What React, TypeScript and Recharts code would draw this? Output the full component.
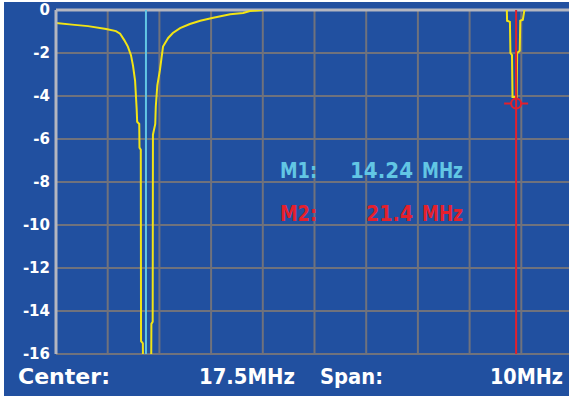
import { LineChart, Line, XAxis, YAxis, CartesianGrid, ReferenceLine, ReferenceDot } from "recharts";

// trace: frequency (MHz) / return loss (dB)
const traceFreq = [
  12.5, 12.81, 13.12, 13.47, 13.66, 13.74, 13.82, 13.89, 13.95, 13.99, 14.03, 14.06, 14.07, 14.11, 14.115,
  14.14, 14.145, 14.18, 14.185, 14.34, 14.345, 14.37, 14.375, 14.42, 14.43, 14.46, 14.51, 14.57, 14.67,
  14.76, 14.9, 15.09, 15.29, 15.52, 15.87, 16.12, 16.25, 16.48, 16.5, 21.2, 21.22, 21.225, 21.28, 21.29,
  21.32, 21.33, 21.41, 21.42, 21.47, 21.48, 21.53, 21.56, 21.57, 22.5,
];
const traceDb = [
  -0.6, -0.68, -0.75, -0.88, -0.98, -1.1, -1.4, -1.7, -2.1, -2.6, -3.3, -4.6, -5.2, -5.3, -6.4,
  -6.5, -15.4, -15.5, -17, -17, -14.6, -14.5, -5.8, -5.3, -4.5, -3.5, -2.8, -1.7, -1.3,
  -1.07, -0.84, -0.65, -0.5, -0.37, -0.2, -0.14, -0.05, 0, 0.5, 0.5, 0, -0.5, -0.55, -2.0,
  -2.1, -4.05, -4.05, -2.0, -1.9, -0.5, -0.45, 0, 0.5, 0.5,
];
const yTicks = [0, -2, -4, -6, -8, -10, -12, -14, -16];
const xTicks = [12.5, 13.5, 14.5, 15.5, 16.5, 17.5, 18.5, 19.5, 20.5, 21.5, 22.5];
const xDomain: [number, number] = [12.5, 22.5];
const m1Freq = 14.24;
const m2Freq = 21.4;
const m2Db = -4.35;

const data = traceFreq.map((f, i) => ({ f, db: traceDb[i] }));

const FONT = "'DejaVu Sans', sans-serif";
const BLUE = "#2150a0";
const GRID = "#70727c";
const FRAME = "#b4b6c0";
const CYAN = "#62c6e4";
const RED = "#e4202c";
const YELLOW = "#f2e414";

const MarkerShape = (props: any) => {
  const { cx, cy } = props;
  return (
    <g>
      <line x1={cx - 12} y1={cy} x2={cx - 5} y2={cy} stroke={RED} strokeWidth={2} />
      <line x1={cx + 5} y1={cy} x2={cx + 12} y2={cy} stroke={RED} strokeWidth={2} />
      <circle cx={cx} cy={cy} r={5} fill="none" stroke={RED} strokeWidth={2} />
    </g>
  );
};

// vertical divisions: one per MHz, placed through the x scale
const verticalGen = ({ xAxis, offset }: any) => {
  const scale = xAxis?.scale;
  if (typeof scale === "function") return xTicks.map((t) => scale(t));
  return xTicks.map((t) => offset.left + ((t - xDomain[0]) / (xDomain[1] - xDomain[0])) * offset.width);
};

export default function App() {
  return (
    <div
      style={{
        position: "absolute",
        left: 0,
        top: 0,
        width: 569,
        height: 396,
        overflow: "hidden",
        background: "#fff",
      }}
    >
      <div style={{ position: "absolute", left: 4, top: 2, width: 600, height: 400, background: BLUE }} />
      <div style={{ position: "absolute", left: 0, top: 0 }}>
        <LineChart width={580} height={396} data={data} margin={{ top: 10, right: 7, bottom: 42, left: 0 }}>
          <CartesianGrid stroke={GRID} strokeWidth={2} verticalCoordinatesGenerator={verticalGen} />
          <XAxis
            dataKey="f"
            type="number"
            domain={xDomain}
            ticks={xTicks}
            tick={false}
            tickLine={false}
            height={0}
            axisLine={{ stroke: FRAME, strokeWidth: 2 }}
          />
          <YAxis
            type="number"
            domain={[-16, 0]}
            ticks={yTicks}
            allowDataOverflow
            width={56}
            tickLine={false}
            tickSize={4}
            tickMargin={2}
            axisLine={{ stroke: FRAME, strokeWidth: 3 }}
            tick={{ fill: "#ffffff", fontSize: 15, fontWeight: 700, fontFamily: FONT }}
          />
          <ReferenceLine y={0} stroke={FRAME} strokeWidth={3} />
          <Line
            dataKey="db"
            type="linear"
            stroke={YELLOW}
            strokeWidth={2}
            dot={false}
            isAnimationActive={false}
          />
          <ReferenceLine x={m1Freq} stroke={CYAN} strokeWidth={2} />
          <ReferenceLine x={m2Freq} stroke={RED} strokeWidth={2} />
          <ReferenceDot x={m2Freq} y={m2Db} shape={MarkerShape} />
        </LineChart>
      </div>
      <svg
        width={569}
        height={396}
        style={{ position: "absolute", left: 0, top: 0, pointerEvents: "none" }}
        fontFamily={FONT}
        fontWeight={700}
      >
        <text x={280} y={178} fontSize={21} fill={CYAN} textLength={37} lengthAdjust="spacingAndGlyphs">M1:</text>
        <text x={350} y={178} fontSize={21} fill={CYAN} textLength={63} lengthAdjust="spacingAndGlyphs">14.24</text>
        <text x={422} y={178} fontSize={21} fill={CYAN} textLength={41} lengthAdjust="spacingAndGlyphs">MHz</text>
        <text x={280} y={221} fontSize={21} fill={RED} textLength={37} lengthAdjust="spacingAndGlyphs">M2:</text>
        <text x={366} y={221} fontSize={21} fill={RED} textLength={47} lengthAdjust="spacingAndGlyphs">21.4</text>
        <text x={422} y={221} fontSize={21} fill={RED} textLength={41} lengthAdjust="spacingAndGlyphs">MHz</text>
        <text x={18} y={384} fontSize={22} fill="#ffffff" textLength={92} lengthAdjust="spacingAndGlyphs">Center:</text>
        <text x={199} y={384} fontSize={22} fill="#ffffff" textLength={96} lengthAdjust="spacingAndGlyphs">17.5MHz</text>
        <text x={320} y={384} fontSize={22} fill="#ffffff" textLength={63} lengthAdjust="spacingAndGlyphs">Span:</text>
        <text x={490} y={384} fontSize={22} fill="#ffffff" textLength={73} lengthAdjust="spacingAndGlyphs">10MHz</text>
      </svg>
    </div>
  );
}
